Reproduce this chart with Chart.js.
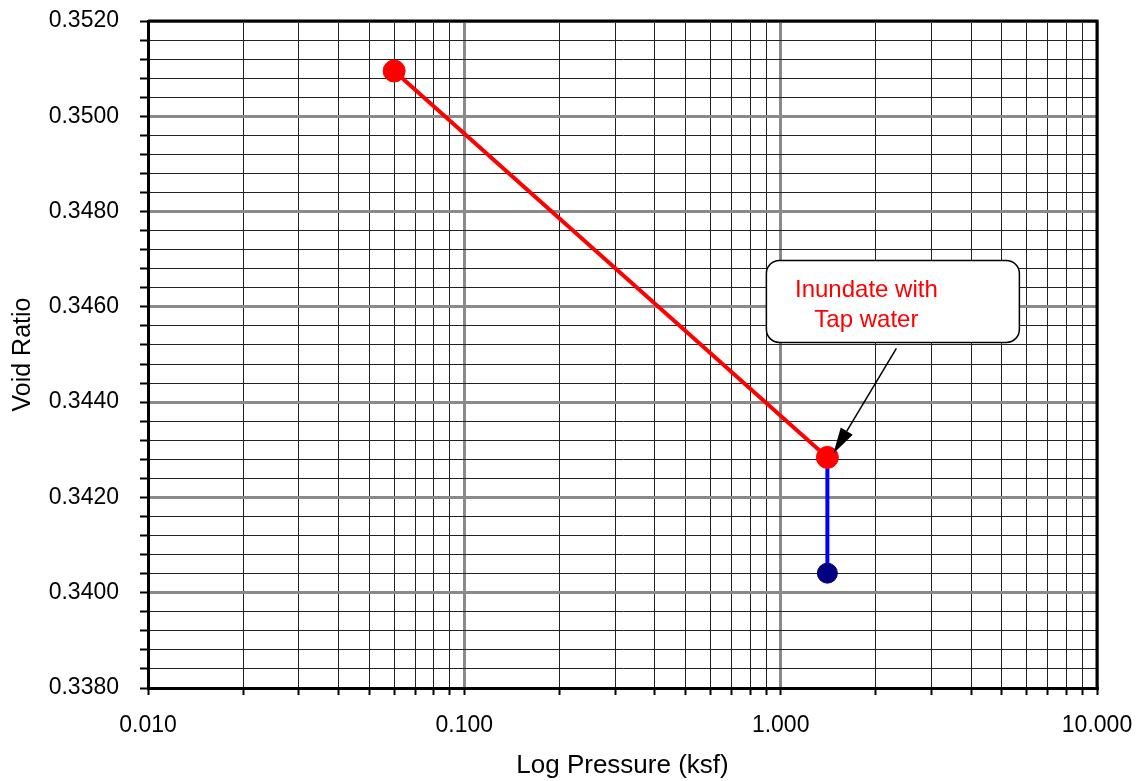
<!DOCTYPE html>
<html>
<head>
<meta charset="utf-8">
<script src="https://cdn.jsdelivr.net/npm/chart.js@4.4.1/dist/chart.umd.min.js"></script>
<style>
  html, body { margin: 0; padding: 0; background: #fff; }
  #wrap { width: 1141px; height: 781px; position: relative; }
</style>
</head>
<body>
<div id="wrap"><canvas id="graficoConsolidacao"></canvas></div>
<script>
// dados
const pressure = [0.06, 1.405];
const voidRatio = [0.35095, 0.34284];
const inundPressure = [1.405, 1.405];
const inundVoidRatio = [0.34284, 0.34041];
const xTickLabels = [0.01, 0.1, 1, 10];
const yTickLabels = [0.338, 0.340, 0.342, 0.344, 0.346, 0.348, 0.350, 0.352];
const calloutText = ["Inundate with", "Tap water"];

const FONT = "'Liberation Sans', Arial, Helvetica, sans-serif";

// ticks do eixo x: 1..9 em cada década
const xTicks = [];
xTickLabels.forEach(function (d, i) {
  if (i === xTickLabels.length - 1) {
    xTicks.push({ value: d, major: true });
    return;
  }
  for (let k = 1; k <= 9; k++) {
    xTicks.push({ value: d * k, major: k === 1 });
  }
});

// ticks do eixo y: 4 divisões menores entre cada rótulo
const yTicks = [];
yTickLabels.forEach(function (v, i) {
  yTicks.push({ value: v, major: true });
  if (i < yTickLabels.length - 1) {
    const step = (yTickLabels[i + 1] - v) / 5;
    for (let k = 1; k < 5; k++) yTicks.push({ value: v + step * k, major: false });
  }
});

const moldura = {
  id: "moldura",
  afterDatasetsDraw(chart) {
    const { ctx, chartArea: a, scales } = chart;
    ctx.save();
    ctx.strokeStyle = "#000";
    ctx.lineWidth = 3;
    ctx.beginPath();
    ctx.moveTo(a.left, a.top);
    ctx.lineTo(a.right, a.top);
    ctx.lineTo(a.right, a.bottom);
    ctx.stroke();

    // caixa de anotação ancorada no ponto de inundação
    const px = scales.x.getPixelForValue(pressure[1]);
    const py = scales.y.getPixelForValue(voidRatio[1]);
    const bx = px - 61, by = py - 197, bw = 253, bh = 82, r = 13;
    ctx.beginPath();
    ctx.moveTo(bx + r, by);
    ctx.arcTo(bx + bw, by, bx + bw, by + bh, r);
    ctx.arcTo(bx + bw, by + bh, bx, by + bh, r);
    ctx.arcTo(bx, by + bh, bx, by, r);
    ctx.arcTo(bx, by, bx + bw, by, r);
    ctx.closePath();
    ctx.fillStyle = "#fff";
    ctx.fill();
    ctx.lineWidth = 1.5;
    ctx.strokeStyle = "#000";
    ctx.stroke();

    ctx.fillStyle = "#ff0000";
    ctx.font = "24px " + FONT;
    ctx.textAlign = "center";
    ctx.textBaseline = "middle";
    ctx.fillText(calloutText[0], px + 39, py - 167);
    ctx.fillText(calloutText[1], px + 39, py - 137);

    // seta
    const sx = px + 69, sy = py - 109, tx = px + 6, ty = py - 4;
    const ang = Math.atan2(ty - sy, tx - sx);
    const hl = 26, hw = 7;
    const bxh = tx - hl * Math.cos(ang), byh = ty - hl * Math.sin(ang);
    ctx.strokeStyle = "#000";
    ctx.lineWidth = 1.5;
    ctx.beginPath();
    ctx.moveTo(sx, sy);
    ctx.lineTo(bxh, byh);
    ctx.stroke();
    ctx.fillStyle = "#000";
    ctx.beginPath();
    ctx.moveTo(tx, ty);
    ctx.lineTo(bxh + hw * Math.sin(ang), byh - hw * Math.cos(ang));
    ctx.lineTo(bxh - hw * Math.sin(ang), byh + hw * Math.cos(ang));
    ctx.closePath();
    ctx.fill();
    ctx.restore();
  },
};

const ctx = document.getElementById("graficoConsolidacao").getContext("2d");

new Chart(ctx, {
  type: "scatter",
  data: {
    datasets: [
      {
        data: pressure.map((p, i) => ({ x: p, y: voidRatio[i] })),
        showLine: true,
        borderColor: "#ff0000",
        borderWidth: 4,
        pointRadius: 11,
        pointBackgroundColor: "#ff0000",
        pointBorderColor: "#ff0000",
        pointBorderWidth: 1,
      },
      {
        data: inundPressure.map((p, i) => ({ x: p, y: inundVoidRatio[i] })),
        showLine: true,
        borderColor: "#0000ff",
        borderWidth: 4,
        pointRadius: [0, 10],
        pointBackgroundColor: "#000080",
        pointBorderColor: "#000080",
        pointBorderWidth: 1,
      },
    ],
  },
  options: {
    responsive: true,
    maintainAspectRatio: false,
    animation: false,
    layout: { padding: { top: 21, right: 44, left: 0, bottom: 0 } },
    plugins: {
      legend: { display: false },
      tooltip: { enabled: false },
    },
    scales: {
      x: {
        type: "logarithmic",
        min: 0.01,
        max: 10,
        afterBuildTicks: (scale) => { scale.ticks = xTicks.map((t) => ({ ...t })); },
        afterFit: (scale) => {
          scale.height = 93;
          scale.paddingLeft = 0;
          scale.paddingRight = 0;
        },
        ticks: {
          autoSkip: false,
          maxRotation: 0,
          padding: 17,
          color: "#000",
          font: { family: FONT, size: 23 },
          callback: (v, i, ticks) => (ticks[i].major ? Number(v).toFixed(3) : ""),
        },
        grid: {
          color: (c) => (c.tick && c.tick.major ? "#8a8a8a" : "#222"),
          lineWidth: (c) => (c.tick && c.tick.major ? 3 : 1),
          tickColor: "#000",
          tickWidth: 2,
          tickLength: 7,
        },
        border: { color: "#000", width: 3 },
        title: {
          display: true,
          text: "Log Pressure (ksf)",
          color: "#000",
          font: { family: FONT, size: 26, lineHeight: 1.2 },
          padding: { top: 0, bottom: 0 },
        },
      },
      y: {
        type: "linear",
        min: 0.338,
        max: 0.352,
        afterBuildTicks: (scale) => { scale.ticks = yTicks.map((t) => ({ ...t })); },
        afterFit: (scale) => {
          scale.width = 148;
          scale.paddingTop = 0;
          scale.paddingBottom = 0;
        },
        ticks: {
          autoSkip: false,
          padding: 21,
          color: "#000",
          font: { family: FONT, size: 23 },
          callback: (v, i, ticks) => (ticks[i].major ? Number(v).toFixed(4) : ""),
        },
        grid: {
          color: (c) => (c.tick && c.tick.major ? "#8a8a8a" : "#222"),
          lineWidth: (c) => (c.tick && c.tick.major ? 3 : 1),
          tickColor: "#000",
          tickWidth: 2,
          tickLength: 8,
        },
        border: { color: "#000", width: 3 },
        title: {
          display: true,
          text: "Void Ratio",
          color: "#000",
          font: { family: FONT, size: 25, lineHeight: 1.2 },
          padding: { top: 8, bottom: 0 },
        },
      },
    },
  },
  plugins: [moldura],
});
</script>
</body>
</html>
